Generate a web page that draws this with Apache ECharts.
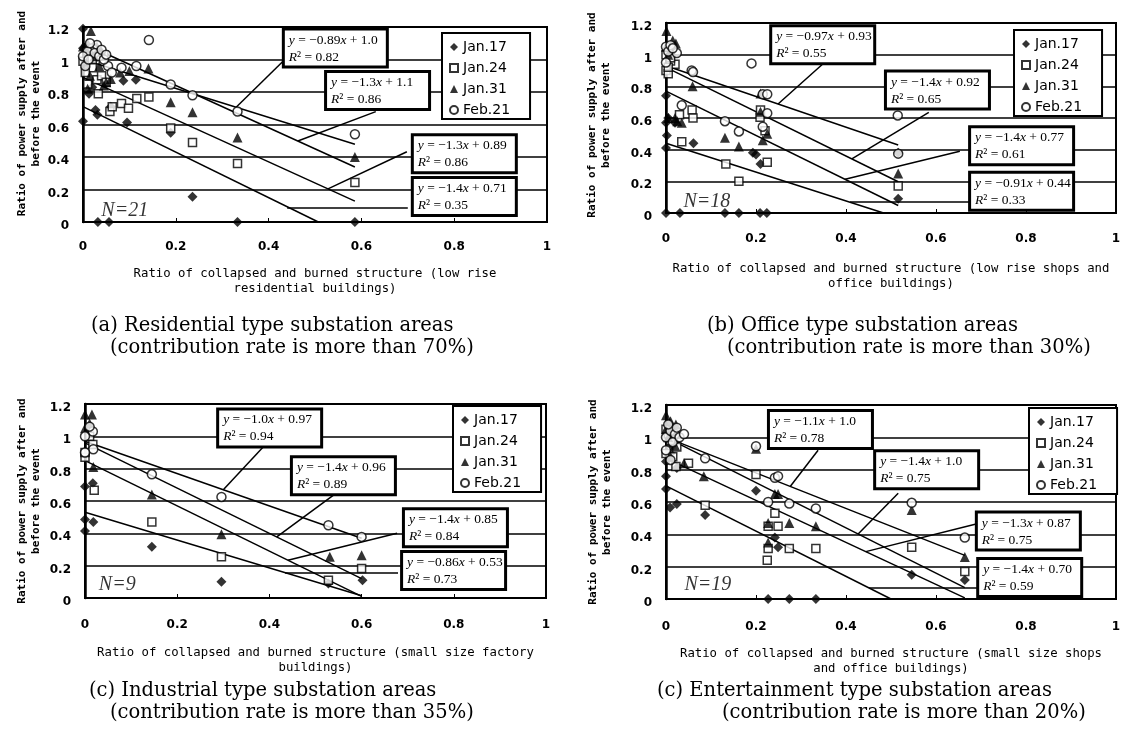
<!DOCTYPE html>
<html><head><meta charset="utf-8">
<script src="https://cdn.jsdelivr.net/npm/echarts@6/dist/echarts.min.js"></script>
<style>html,body{margin:0;padding:0;background:#fff}#c{width:1124px;height:735px}</style>
</head><body><div id="c"></div>
<script>
// ---------- common ----------
const seriesNames = ['Jan.17', 'Jan.24', 'Jan.31', 'Feb.21'];
const yTicksMax = 1.2;
const xTicksMax = 1;

// ---------- panel (a) Residential ----------
const aJan17 = [[0,1.19],[0,1.07],[0.01,1.05],[0.02,1.03],[0.03,1.06],[0.04,1.04],[0.013,0.79],[0.02,0.83],[0,0.62],[0.027,0.69],[0.031,0.66],[0.06,0.71],[0.087,0.87],[0.095,0.613],[0.114,0.876],[0.189,0.55],[0.236,0.156],[0.333,0],[0.586,0],[0.032,0],[0.056,0]];
const aJan24 = [[0,0.99],[0.01,1.02],[0.02,1.0],[0.03,0.876],[0.033,0.79],[0.04,0.9],[0.01,0.85],[0.058,0.68],[0.063,0.71],[0.083,0.73],[0.098,0.70],[0.116,0.76],[0.142,0.77],[0.189,0.578],[0.236,0.49],[0.333,0.36],[0.586,0.243],[0.02,0.95],[0.005,0.92],[0.045,1.03],[0.05,0.86]];
const aJan31 = [[0.017,1.175],[0,1.08],[0.01,1.1],[0.02,1.06],[0.03,1.08],[0.04,1.05],[0.005,0.98],[0.05,0.86],[0.06,0.88],[0.08,0.92],[0.1,0.93],[0.141,0.944],[0.189,0.737],[0.236,0.675],[0.333,0.52],[0.586,0.40],[0.015,0.9],[0.025,1.02],[0.035,0.96],[0.045,0.84],[0.01,0.82]];
const aFeb21 = [[0.142,1.12],[0.02,1.07],[0.03,1.09],[0.01,1.05],[0,1.02],[0.025,1.04],[0.035,1.02],[0.054,0.96],[0.062,0.92],[0.083,0.95],[0.115,0.96],[0.189,0.846],[0.236,0.78],[0.333,0.68],[0.586,0.54],[0.04,1.06],[0.015,1.1],[0.005,0.96],[0.045,1.0],[0.05,1.03],[0.012,1.0]];
const aSlopes = [-0.89, -1.3, -1.3, -1.4];
const aIntercepts = ['1.0', '1.1', '0.89', '0.71'];
const aR2 = ['0.82', '0.86', '0.86', '0.35'];
const aLineEndX = 0.586;
const aBoxes = [[0.435,1.071],[0.526,0.809],[0.713,0.420],[0.713,0.157]];
const aArrows = [[0.435,1.0,0.33,0.706],[0.631,0.679,0.463,0.498],[0.698,0.432,0.528,0.204],[0.70,0.09,0.44,0.09]];
const aN = ['N=21', 0.09, 0.072];

// ---------- panel (b) Office ----------
const bJan17 = [[0,0.74],[0,0.57],[0.02,0.57],[0.002,0.49],[0,0.41],[0.061,0.44],[0.193,0.38],[0.20,0.37],[0.21,0.31],[0,0],[0.031,0],[0.131,0],[0.162,0],[0.209,0],[0.224,0],[0.516,0.09],[0.516,0.38],[0.005,0.6]];
const bJan24 = [[0.02,0.94],[0,0.9],[0.005,0.88],[0.01,0.96],[0,1.0],[0.058,0.65],[0.06,0.60],[0.035,0.45],[0.133,0.31],[0.162,0.20],[0.209,0.605],[0.22,0.52],[0.225,0.32],[0.516,0.17],[0.21,0.65],[0.005,0.92],[0.03,0.62],[0.01,0.98]];
const bJan31 = [[0.001,1.15],[0.022,1.07],[0,1.05],[0.005,1.0],[0.01,1.03],[0.059,0.80],[0.025,0.58],[0.035,0.57],[0.131,0.475],[0.162,0.42],[0.21,0.755],[0.21,0.64],[0.215,0.46],[0.225,0.50],[0.516,0.25],[0.005,0.6],[0.02,0.6],[0.015,1.09]];
const bFeb21 = [[0.024,1.01],[0.057,0.90],[0.06,0.89],[0.035,0.68],[0.19,0.945],[0.131,0.58],[0.162,0.515],[0.215,0.75],[0.225,0.75],[0.225,0.63],[0.215,0.545],[0.515,0.616],[0.516,0.375],[0,1.05],[0.005,1.02],[0.01,1.06],[0,0.95],[0.015,1.04]];
const bSlopes = [-0.97, -1.4, -1.4, -0.91];
const bIntercepts = ['0.93', '0.92', '0.77', '0.44'];
const bR2 = ['0.55', '0.65', '0.61', '0.33'];
const bLineEndX = 0.516;
const bBoxes = [[0.236,1.063],[0.491,0.777],[0.678,0.425],[0.678,0.138]];
const bArrows = [[0.349,0.943,0.249,0.688],[0.584,0.635,0.413,0.342],[0.653,0.39,0.398,0.213],[0.676,0.069,0.409,0.068]];
const bN = ['N=18', 0.091, 0.072];

// ---------- panel (c) Industrial ----------
const cJan17 = [[0,0.69],[0.017,0.71],[0,0.486],[0.018,0.47],[0,0.415],[0.145,0.317],[0.296,0.10],[0.528,0.09],[0.602,0.11]];
const cJan24 = [[0.017,0.95],[0,0.87],[0.02,0.667],[0.145,0.47],[0.296,0.255],[0.528,0.11],[0.60,0.183],[0,0.9],[0.01,1.0]];
const cJan31 = [[0,1.135],[0.015,1.135],[0.018,0.81],[0.145,0.64],[0.296,0.395],[0.531,0.255],[0.60,0.265],[0,1.05],[0.01,1.08]];
const cFeb21 = [[0.017,1.03],[0.018,0.92],[0.145,0.765],[0.296,0.625],[0.528,0.45],[0.60,0.378],[0,1.0],[0,0.9],[0.01,1.06]];
const cSlopes = [-1.0, -1.4, -1.4, -0.86];
const cIntercepts = ['0.97', '0.96', '0.85', '0.53'];
const cR2 = ['0.94', '0.89', '0.84', '0.73'];
const cLineEndX = 0.60;
const cBoxes = [[0.291,1.052],[0.451,0.756],[0.694,0.435],[0.690,0.170]];
const cArrows = [[0.386,0.932,0.30,0.67],[0.542,0.642,0.416,0.378],[0.677,0.401,0.44,0.234],[0.679,0.157,0.434,0.157]];
const cN = ['N=9', 0.07, 0.08];

// ---------- panel (d) Entertainment ----------
const dJan17 = [[0,0.76],[0,0.68],[0.024,0.81],[0.009,0.566],[0.024,0.587],[0.087,0.52],[0.2,0.67],[0.242,0.38],[0.249,0.32],[0.227,0],[0.274,0],[0.333,0],[0.546,0.15],[0.664,0.117],[0.01,0.9],[0,0.85],[0.02,1.0],[0.015,0.95],[0.005,1.05]];
const dJan24 = [[0.024,0.94],[0.022,0.82],[0.05,0.84],[0.087,0.58],[0.2,0.77],[0.242,0.53],[0.249,0.45],[0.227,0.45],[0.227,0.313],[0.274,0.313],[0.333,0.313],[0.225,0.24],[0.546,0.32],[0.664,0.17],[0,0.9],[0.01,0.98],[0.005,1.02],[0.015,0.88],[0,1.05]];
const dJan31 = [[0,1.136],[0.022,1.08],[0.084,0.76],[0.2,0.93],[0.242,0.65],[0.249,0.65],[0.227,0.47],[0.274,0.47],[0.333,0.45],[0.227,0.35],[0.546,0.55],[0.664,0.26],[0,1.05],[0.01,1.1],[0.005,1.0],[0.015,1.02],[0.02,0.95],[0.04,0.84],[0.01,0.88]];
const dFeb21 = [[0.087,0.87],[0.2,0.945],[0.242,0.75],[0.249,0.76],[0.227,0.60],[0.274,0.59],[0.333,0.56],[0.546,0.595],[0.664,0.38],[0,1.0],[0.01,1.04],[0.02,1.02],[0.005,1.08],[0.015,0.97],[0.024,1.06],[0.03,1.0],[0,0.92],[0.01,0.86],[0.04,1.02]];
const dSlopes = [-1.1, -1.4, -1.3, -1.4];
const dIntercepts = ['1.0', '1.0', '0.87', '0.70'];
const dR2 = ['0.78', '0.75', '0.75', '0.59'];
const dLineEndX = 0.664;
const dBoxes = [[0.231,1.049],[0.467,0.799],[0.693,0.420],[0.696,0.133]];
const dArrows = [[0.338,0.92,0.276,0.696],[0.516,0.654,0.427,0.402],[0.687,0.463,0.444,0.293],[0.691,0.068,0.451,0.068]];
const dN = ['N=19', 0.093, 0.086];

// ---------- texts ----------
const yTitle = 'Ratio of power supply after and\nbefore the event';
const xTitles = [
  'Ratio of collapsed and burned structure (low rise\nresidential buildings)',
  'Ratio of collapsed and burned structure (low rise shops and\noffice buildings)',
  'Ratio of collapsed and burned structure (small size factory\nbuildings)',
  'Ratio of collapsed and burned structure (small size shops\nand office buildings)'
];
const captions = [
  ['(a) Residential type substation areas', '(contribution rate is more than 70%)'],
  ['(b) Office type substation areas', '(contribution rate is more than 30%)'],
  ['(c) Industrial type substation areas', '(contribution rate is more than 35%)'],
  ['(c) Entertainment type substation areas', '(contribution rate is more than 20%)']
];

// ---------- layout (pixels) ----------
const layout = [
  {grid:{left:83, top:27, width:464, height:195}, legend:[442,33], yGap:40, yShift:22, xGap:44, xMargin:19, cap:[[91,325],[110,347]]},
  {grid:{left:666, top:23, width:450, height:190}, legend:[1014,30], yGap:53, yShift:6, xGap:48, xMargin:20, cap:[[707,325],[727,347]]},
  {grid:{left:85, top:404, width:461, height:194}, legend:[453,406], yGap:42, yShift:0, xGap:47, xMargin:21, cap:[[89,690],[110,712]]},
  {grid:{left:666, top:405, width:450, height:194}, legend:[1029,408], yGap:52, yShift:0, xGap:47, xMargin:22, cap:[[657,690],[722,712]]}
];

const panels = [
  {pts:[aJan17,aJan24,aJan31,aFeb21], m:aSlopes, b:aIntercepts, r2:aR2, end:aLineEndX, boxes:aBoxes, arrows:aArrows, n:aN},
  {pts:[bJan17,bJan24,bJan31,bFeb21], m:bSlopes, b:bIntercepts, r2:bR2, end:bLineEndX, boxes:bBoxes, arrows:bArrows, n:bN},
  {pts:[cJan17,cJan24,cJan31,cFeb21], m:cSlopes, b:cIntercepts, r2:cR2, end:cLineEndX, boxes:cBoxes, arrows:cArrows, n:cN},
  {pts:[dJan17,dJan24,dJan31,dFeb21], m:dSlopes, b:dIntercepts, r2:dR2, end:dLineEndX, boxes:dBoxes, arrows:dArrows, n:dN}
];

const symbolStyles = [
  {symbol:'diamond', symbolSize:10, itemStyle:{color:'#000', borderColor:'#000', borderWidth:0}},
  {symbol:'rect', symbolSize:8, itemStyle:{color:'#fff', borderColor:'#000', borderWidth:1.5}},
  {symbol:'triangle', symbolSize:10, itemStyle:{color:'#000', borderColor:'#000', borderWidth:0}},
  {symbol:'circle', symbolSize:9, itemStyle:{color:'#fff', borderColor:'#000', borderWidth:1.5}}
];

function fmtNum(v) {
  let s = String(Math.abs(v));
  if (s.indexOf('.') < 0) s += '.0';
  return s;
}

const SANS = 'DejaVu Sans';
const MONO = 'DejaVu Sans Mono';
const SERIF = 'Liberation Serif';
const CAPSERIF = 'DejaVu Serif';

const option = {
  animation: false,
  backgroundColor: '#fff',
  grid: layout.map(l => Object.assign({show:true, borderColor:'#000', borderWidth:2, backgroundColor:'transparent', containLabel:false}, l.grid)),
  legend: layout.map(l => ({
    left: l.legend[0], top: l.legend[1], orient: 'vertical', data: seriesNames,
    itemWidth: 8, itemHeight: 8, itemGap: 5, selectedMode: false,
    backgroundColor: '#fff', borderColor: '#000', borderWidth: 2,
    padding: [6, 20, 1, 7],
    textStyle: {fontFamily: SANS, fontSize: 14, color: '#000', lineHeight: 16},
    z: 10
  })),
  xAxis: layout.map((l, i) => ({
    gridIndex: i, type: 'value', min: 0, max: xTicksMax, interval: 0.2,
    axisLine: {show: true, onZero: false, lineStyle: {color: '#000', width: 2}},
    axisTick: {show: true, inside: true, length: 4, lineStyle: {color: '#000', width: 1}},
    splitLine: {show: false},
    axisLabel: {margin: l.xMargin, fontFamily: SANS, fontWeight: 'bold', fontSize: 12, color: '#000'},
    name: xTitles[i], nameLocation: 'middle', nameGap: l.xGap,
    nameTextStyle: {fontFamily: MONO, fontSize: 12.3, color: '#000', lineHeight: 15, align: 'center'}
  })),
  yAxis: layout.map((l, i) => ({
    gridIndex: i, type: 'value', min: 0, max: yTicksMax, interval: 0.2,
    axisLine: {show: true, onZero: false, lineStyle: {color: '#000', width: 2.5}},
    axisTick: {show: false},
    splitLine: {show: true, lineStyle: {color: '#000', width: 1.5}},
    axisLabel: {margin: 14, fontFamily: SANS, fontWeight: 'bold', fontSize: 12, color: '#000', verticalAlign: 'top', lineHeight: 8},
    name: yTitle, nameLocation: 'middle', nameGap: l.yGap, nameRotate: 90,
    nameTextStyle: {fontFamily: MONO, fontWeight: 'bold', fontSize: 11, color: '#000', lineHeight: 14, align: 'center', padding: [0, 0, 0, l.yShift]}
  })),
  graphic: [],
  series: []
};

panels.forEach((p, i) => {
  // scatter points
  p.pts.forEach((arr, k) => {
    option.series.push(Object.assign({
      type: 'scatter', name: seriesNames[k], xAxisIndex: i, yAxisIndex: i,
      data: arr, z: 5, silent: true, emphasis: {disabled: true}
    }, symbolStyles[k]));
  });
  // regression lines
  p.m.forEach((m, k) => {
    const b = parseFloat(p.b[k]);
    const xe = Math.min(p.end, -b / m);
    option.series.push({
      type: 'line', xAxisIndex: i, yAxisIndex: i, symbol: 'none', silent: true,
      data: [[0, b], [xe, m * xe + b]],
      lineStyle: {color: '#000', width: 1.5}, z: 3, emphasis: {disabled: true}
    });
  });
  // equation boxes + arrows
  option.series.push({
    type: 'scatter', xAxisIndex: i, yAxisIndex: i, symbolSize: 1, silent: true,
    itemStyle: {color: '#fff', opacity: 1}, z: 8, emphasis: {disabled: true},
    data: p.boxes.map((c, k) => ({
      value: c,
      label: {formatter: '{i|y} = −' + fmtNum(p.m[k]) + '{i|x} + ' + p.b[k] + '\n{i|R}² = ' + p.r2[k]}
    })),
    label: {
      show: true, position: 'inside', fontFamily: SERIF, fontSize: 13.5, lineHeight: 17, color: '#000',
      align: 'left', verticalAlign: 'middle', width: 93, opacity: 1,
      textBorderWidth: 0, textBorderColor: 'transparent', textShadowBlur: 0,
      backgroundColor: '#fff', borderColor: '#000', borderWidth: 3, borderType: 'solid', padding: [1, 4, 0, 4],
      rich: {i: {fontFamily: SERIF, fontStyle: 'italic', fontSize: 13.5, lineHeight: 17, color: '#000', textBorderWidth: 0}}
    },
    markLine: {
      silent: true, symbol: ['none', 'arrow'], symbolSize: [0, 10], animation: false,
      label: {show: false},
      lineStyle: {color: '#000', width: 1.5, type: 'solid'},
      emphasis: {disabled: true},
      data: p.arrows.map(a => [{coord: [a[0], a[1]]}, {coord: [a[2], a[3]]}])
    }
  });
  // N label
  option.series.push({
    type: 'scatter', xAxisIndex: i, yAxisIndex: i, symbolSize: 1, silent: true,
    itemStyle: {color: 'rgba(0,0,0,0)'}, z: 8, emphasis: {disabled: true},
    data: [[p.n[1], p.n[2]]],
    label: {show: true, position: 'inside', formatter: p.n[0], fontFamily: SERIF, fontStyle: 'italic', fontSize: 20, color: '#000', textBorderWidth: 0}
  });
  // captions
  layout[i].cap.forEach((pos, k) => {
    option.graphic.push({
      type: 'text', left: pos[0], top: pos[1] - 9, silent: true,
      style: {text: captions[i][k], fontFamily: CAPSERIF, fontSize: 19.5, fill: '#000'}
    });
  });
});

const chart = echarts.init(document.getElementById('c'), null, {renderer: 'canvas'});
chart.setOption(option);
</script>
</body></html>
